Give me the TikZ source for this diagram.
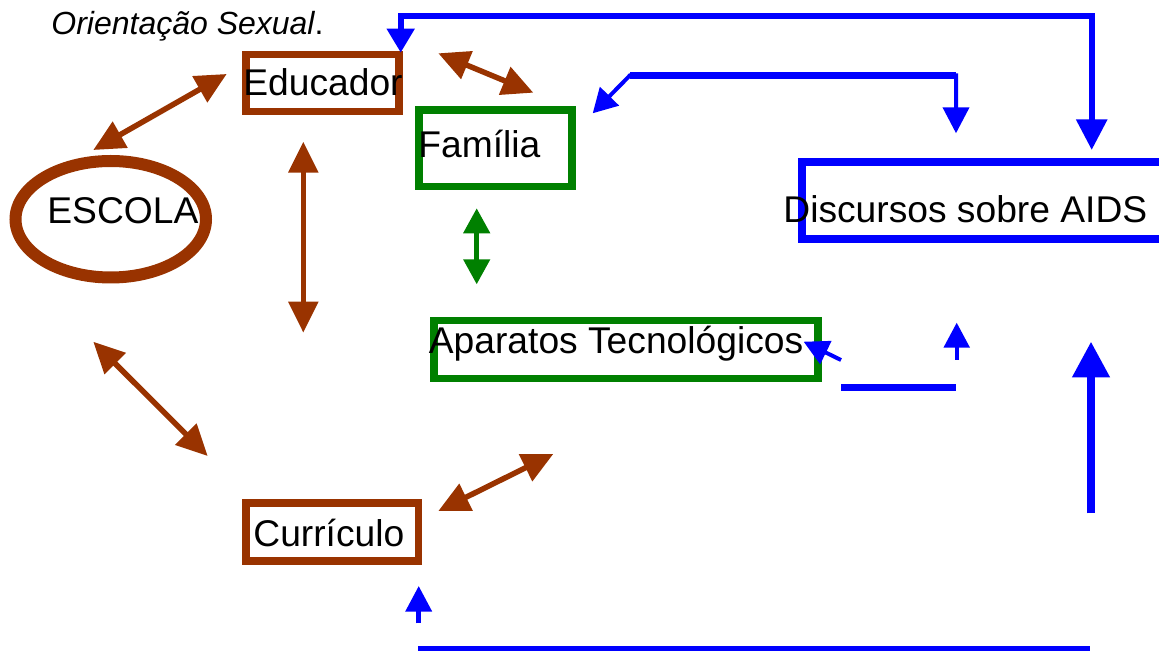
\documentclass[tikz,border=0pt]{standalone}
\usepackage{fontspec}
\setmainfont{Liberation Sans}
\usetikzlibrary{arrows.meta,shapes.geometric}
\definecolor{marrom}{RGB}{153,51,0}
\definecolor{verde}{RGB}{0,128,0}
\definecolor{azul}{RGB}{0,0,255}
\begin{document}
\begin{tikzpicture}[x=0.5pt,y=-0.5pt,
  txt/.style={font=\fontsize{18.6pt}{20pt}\selectfont, inner sep=0, anchor=base west},
  caixa/.style={draw=#1, line width=3.75pt, rectangle, inner sep=0},
  marromseta/.style={marrom, line width=2.75pt, >={Triangle[length=15.5pt,width=14.5pt]}, <->},
  verdeseta/.style={verde, line width=2.35pt, >={Triangle[length=12.5pt,width=13pt]}, <->},
  azulseta/.style={azul, line width=#1}]
\useasboundingbox (0,0) rectangle (1159,651);

\node[txt, font=\fontsize{16pt}{18pt}\selectfont] (titulo) at (51,35) {{\itshape Orientação Sexual}.};

\node[caixa=marrom, minimum width=76.5pt, minimum height=28.5pt] (edu) at (322.5,83) {};
\node[caixa=verde, minimum width=76.5pt, minimum height=38.25pt] (fam) at (495.5,148.25) {};
\node[caixa=verde, minimum width=192pt, minimum height=29pt] (apar) at (626,349.7) {};
\node[caixa=azul, minimum width=184pt, minimum height=38.5pt] (disc) at (986,200.5) {};
\node[caixa=marrom, minimum width=86.45pt, minimum height=28.9pt] (curr) at (332.25,531.9) {};
\node[draw=marrom, line width=6pt, ellipse, inner sep=0, minimum width=95.25pt, minimum height=58.25pt] (escola) at (110.75,219.25) {};

\node[txt] (edu-t) at (243,96) {Educador};
\node[txt] (fam-t) at (418,158) {Família};
\node[txt] (apar-t) at (428.5,353.3) {Aparatos Tecnológicos};
\node[txt] (disc-t) at (783,222.7) {Discursos sobre AIDS};
\node[txt] (curr-t) at (253,546) {Currículo};
\node[txt] (escola-t) at (47,223.3) {ESCOLA};

\coordinate (escola-edu) at (93.3,150);
\coordinate (edu-escola) at (226.7,74);
\coordinate (edu-fam) at (438.3,53.3);
\coordinate (fam-edu) at (533.3,92.7);
\coordinate (edu-curr) at (303.3,141.7);
\coordinate (curr-edu) at (303.3,332.7);
\coordinate (escola-curr) at (93.3,341.7);
\coordinate (curr-escola) at (207.7,456);
\coordinate (curr-apar) at (438.3,511);
\coordinate (apar-curr) at (553.3,454);
\coordinate (fam-apar) at (476.7,208.3);
\coordinate (apar-fam) at (476.7,284.3);

\draw[marromseta] (escola-edu) -- (edu-escola);
\draw[marromseta] (edu-fam) -- (fam-edu);
\draw[marromseta] (edu-curr) -- (curr-edu);
\draw[marromseta] (escola-curr) -- (curr-escola);
\draw[marromseta] (curr-apar) -- (apar-curr);
\draw[verdeseta] (fam-apar) -- (apar-fam);

\coordinate (disc-edu) at (1091.7,150);
\coordinate (edu-disc) at (400.7,52.7);
\coordinate (disc-fam) at (956,133.3);
\coordinate (fam-disc) at (592.7,113.3);
\coordinate (apar-disc) at (803.6,341.7);
\coordinate (disc-apar) at (841,360);
\coordinate (disc-curr) at (418.7,586);
\coordinate (curr-disc) at (418.7,623.3);

\draw[azulseta=3pt, {Triangle[length=12pt,width=13.3pt]}-{Triangle[length=15.3pt,width=15pt]}]
  (edu-disc) -- (400.7,15.7) -- (1091.7,15.7) -- (disc-edu);
\draw[azulseta=2pt, {Triangle[length=12pt,width=13pt]}-{Triangle[length=13pt,width=13pt]}]
  (fam-disc) -- (630,75.3) -- (956,75.3) -- (disc-fam);
\draw[azulseta=3.6pt] (630,75.3) -- (956,75.3);
\draw[azulseta=2pt, -{Triangle[length=12.4pt,width=12.5pt]}] (disc-apar) -- (apar-disc);
\draw[azulseta=3.5pt] (841,387.5) -- (956,387.5);
\draw[azulseta=1.85pt, -{Triangle[length=12.5pt,width=12.8pt]}] (956.7,360) -- (956.7,322.7);
\draw[azulseta=3.65pt, -{Triangle[length=17.8pt,width=18pt]}] (1091,513.3) -- (1091,341.7);
\draw[azulseta=2.25pt, -{Triangle[length=12.8pt,width=12.9pt]}] (curr-disc) -- (disc-curr);
\draw[azulseta=3pt] (418.3,649) -- (1090.4,649);
\end{tikzpicture}
\end{document}
